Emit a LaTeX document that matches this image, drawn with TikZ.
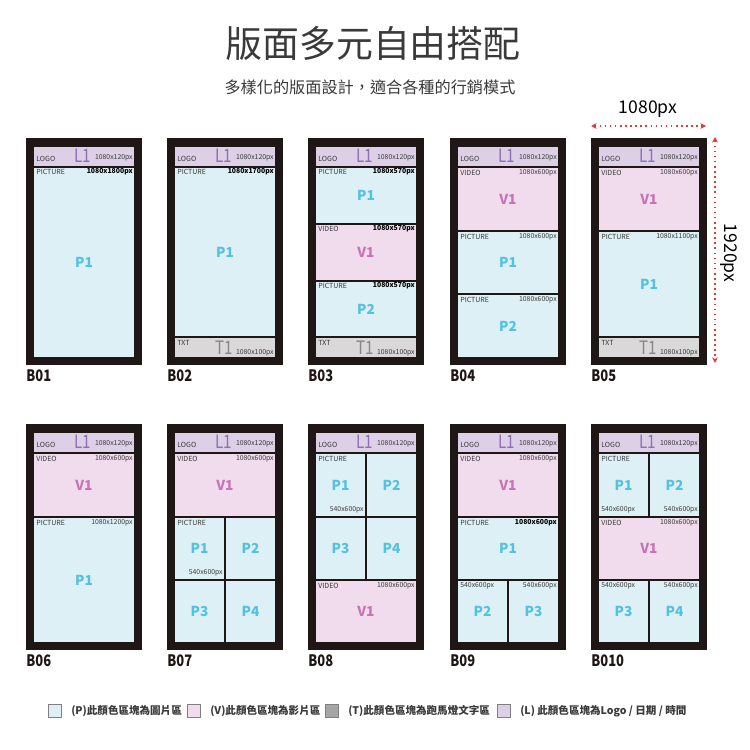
\documentclass[tikz,border=0pt]{standalone}
\usepackage{fontspec}
\setmainfont{Noto Sans CJK TC}
\newfontfamily\narrowfont[FakeStretch=0.82]{Noto Sans CJK TC}
\usetikzlibrary{arrows.meta, positioning}
\definecolor{framedk}{HTML}{1F1715}
\definecolor{logobg}{HTML}{DCCFE6}
\definecolor{logotx}{HTML}{8E6FB5}
\definecolor{picbg}{HTML}{DDF0F6}
\definecolor{pictx}{HTML}{55C1E0}
\definecolor{vidbg}{HTML}{F0DCEC}
\definecolor{vidtx}{HTML}{C873B5}
\definecolor{txtbg}{HTML}{D9D9D9}
\definecolor{txttx}{HTML}{868686}
\definecolor{legdk}{HTML}{A6A6A6}
\definecolor{inkgray}{HTML}{3A3A3A}
\definecolor{dimred}{HTML}{E53935}

% logo bar, one per panel (panel coordinates)
\newcommand{\logobar}[1]{%
  \filldraw[lblk] (7,8) rectangle (109,29);
  \node[tag, anchor=west] (#1logo) at (10,21) {LOGO};
  \node[lbig] (#1l1) at (57,18) {L1};
  \node[dim, anchor=east] (#1lsz) at (107,20) {1080x120px};
}
% running text bar at the bottom
\newcommand{\txtbar}[1]{%
  \filldraw[tblk] (7,199) rectangle (109,220);
  \node[tag, anchor=north west] (#1txt) at (10,202) {TXT};
  \node[tbig] (#1t1) at (57,210) {T1};
  \node[dim, anchor=south east] (#1tsz) at (107,218) {1080x100px};
}
% one block: name, kind (p/v), x1, y1, x2, y2, label
\newcommand{\blk}[7]{%
  \filldraw[#2blk] (#3,#4) rectangle (#5,#6);
  \node[#2big] (#1) at ({(#3+#5)/2},{(#4+#6)/2}) {#7};
}
% type and size tags along the top of a full-width block
\newcommand{\tags}[5]{%
  \node[tag, anchor=west] (#1a) at (10,#2) {#3};
  \node[#5, anchor=east] (#1b) at (107,#2) {#4};
}

\begin{document}
\begin{tikzpicture}[x=0.02cm, y=-0.02cm,
  >={Stealth[length=3.2pt, width=3.2pt]},
  panel/.style={fill=framedk},
  lblk/.style={fill=logobg, draw=framedk, line width=0.9pt},
  pblk/.style={fill=picbg, draw=framedk, line width=0.9pt},
  vblk/.style={fill=vidbg, draw=framedk, line width=0.9pt},
  tblk/.style={fill=txtbg, draw=framedk, line width=0.9pt},
  lbig/.style={font=\narrowfont\fontsize{10.5}{11}\selectfont, text=logotx, inner sep=0pt},
  tbig/.style={font=\narrowfont\fontsize{10.5}{11}\selectfont, text=txttx, inner sep=0pt},
  pbig/.style={font=\fontsize{7.8}{8}\selectfont\bfseries, text=pictx, inner sep=0pt},
  vbig/.style={font=\fontsize{7.8}{8}\selectfont\bfseries, text=vidtx, inner sep=0pt},
  tag/.style={font=\fontsize{4}{4.5}\selectfont, text=inkgray, inner sep=0pt},
  dim/.style={font=\fontsize{3.9}{4.5}\selectfont, text=inkgray, inner sep=0pt},
  dimb/.style={font=\fontsize{3.9}{4.5}\selectfont\bfseries, text=black, inner sep=0pt},
  plabel/.style={font=\narrowfont\fontsize{9}{10}\selectfont\bfseries, text=framedk,
    inner sep=0pt, anchor=north west},
  dimline/.style={<->, dimred, dotted, line width=0.9pt},
  legbox/.style={draw=gray, line width=0.5pt, minimum size=7.6pt, inner sep=0pt},
  legtxt/.style={font=\fontsize{6}{7}\selectfont\bfseries, text=inkgray, inner sep=0pt}]

\useasboundingbox (0,0) rectangle (750,750);
\fill[white] (0,0) rectangle (750,750);

% Title
\node[font=\fontsize{21}{24}\selectfont, text=inkgray] (title) at (373,44) {版面多元自由搭配};
\node[font=\fontsize{9.2}{11}\selectfont, text=inkgray] (subtitle) at (370,87)
  {多樣化的版面設計，適合各種的行銷模式};

% === Row 1 ===

% B01
\begin{scope}[shift={(26,138)}]
\fill[panel] (0,0) rectangle (116,227);
\logobar{b01}
\blk{b01p1}{p}{7}{29}{109}{220}{P1}
\tags{b01p}{34}{PICTURE}{1080x1800px}{dimb}
\node[plabel] (b01) at (0,231) {B01};
\end{scope}

% B02
\begin{scope}[shift={(167,138)}]
\fill[panel] (0,0) rectangle (116,227);
\logobar{b02}
\blk{b02p1}{p}{7}{29}{109}{199}{P1}
\tags{b02p}{34}{PICTURE}{1080x1700px}{dimb}
\txtbar{b02}
\node[plabel] (b02) at (0,231) {B02};
\end{scope}

% B03
\begin{scope}[shift={(308,138)}]
\fill[panel] (0,0) rectangle (116,227);
\logobar{b03}
\blk{b03p1}{p}{7}{29}{109}{86}{P1}
\tags{b03p}{34}{PICTURE}{1080x570px}{dimb}
\blk{b03v1}{v}{7}{86}{109}{143}{V1}
\tags{b03v}{91}{VIDEO}{1080x570px}{dimb}
\blk{b03p2}{p}{7}{143}{109}{199}{P2}
\tags{b03q}{148}{PICTURE}{1080x570px}{dimb}
\txtbar{b03}
\node[plabel] (b03) at (0,231) {B03};
\end{scope}

% B04
\begin{scope}[shift={(450,138)}]
\fill[panel] (0,0) rectangle (116,227);
\logobar{b04}
\blk{b04v1}{v}{7}{29}{109}{93}{V1}
\tags{b04v}{35}{VIDEO}{1080x600px}{dim}
\blk{b04p1}{p}{7}{93}{109}{156}{P1}
\tags{b04p}{99}{PICTURE}{1080x600px}{dim}
\blk{b04p2}{p}{7}{156}{109}{220}{P2}
\tags{b04q}{162}{PICTURE}{1080x600px}{dim}
\node[plabel] (b04) at (0,231) {B04};
\end{scope}

% B05
\begin{scope}[shift={(591,138)}]
\fill[panel] (0,0) rectangle (116,227);
\logobar{b05}
\blk{b05v1}{v}{7}{29}{109}{93}{V1}
\tags{b05v}{35}{VIDEO}{1080x600px}{dim}
\blk{b05p1}{p}{7}{93}{109}{199}{P1}
\tags{b05p}{99}{PICTURE}{1080x1100px}{dim}
\txtbar{b05}
\node[plabel] (b05) at (0,231) {B05};
\end{scope}

% Screen size
\coordinate (wl) at (591,126);
\coordinate (wr) at (706,126);
\coordinate (ht) at (715,137);
\coordinate (hb) at (715,363);
\draw[dimline] (wl) -- (wr);
\draw[dimline] (ht) -- (hb);
\node[font=\fontsize{10}{11}\selectfont, text=black, inner sep=0pt] (wlab) at (648,109) {1080px};
\node[font=\fontsize{10}{11}\selectfont, text=black, inner sep=0pt, rotate=-90] (hlab) at (729,253) {1920px};

% === Row 2 ===

% B06
\begin{scope}[shift={(26,424)}]
\fill[panel] (0,0) rectangle (116,226);
\logobar{b06}
\blk{b06v1}{v}{7}{29}{109}{93}{V1}
\tags{b06v}{35}{VIDEO}{1080x600px}{dim}
\blk{b06p1}{p}{7}{93}{109}{219}{P1}
\tags{b06p}{99}{PICTURE}{1080x1200px}{dim}
\node[plabel] (b06) at (0,230) {B06};
\end{scope}

% B07
\begin{scope}[shift={(167,424)}]
\fill[panel] (0,0) rectangle (116,226);
\logobar{b07}
\blk{b07v1}{v}{7}{29}{109}{93}{V1}
\tags{b07v}{35}{VIDEO}{1080x600px}{dim}
\blk{b07p1}{p}{7}{93}{58}{156}{P1}
\blk{b07p2}{p}{58}{93}{109}{156}{P2}
\blk{b07p3}{p}{7}{156}{58}{219}{P3}
\blk{b07p4}{p}{58}{156}{109}{219}{P4}
\node[tag, anchor=west] (b07pa) at (10,99) {PICTURE};
\node[dim, anchor=east] (b07pb) at (56,149) {540x600px};
\node[plabel] (b07) at (0,230) {B07};
\end{scope}

% B08
\begin{scope}[shift={(308,424)}]
\fill[panel] (0,0) rectangle (116,226);
\logobar{b08}
\blk{b08p1}{p}{7}{29}{58}{93}{P1}
\blk{b08p2}{p}{58}{29}{109}{93}{P2}
\blk{b08p3}{p}{7}{93}{58}{156}{P3}
\blk{b08p4}{p}{58}{93}{109}{156}{P4}
\node[tag, anchor=west] (b08pa) at (10,35) {PICTURE};
\node[dim, anchor=east] (b08pb) at (56,86) {540x600px};
\blk{b08v1}{v}{7}{156}{109}{219}{V1}
\tags{b08v}{162}{VIDEO}{1080x600px}{dim}
\node[plabel] (b08) at (0,230) {B08};
\end{scope}

% B09
\begin{scope}[shift={(450,424)}]
\fill[panel] (0,0) rectangle (116,226);
\logobar{b09}
\blk{b09v1}{v}{7}{29}{109}{93}{V1}
\tags{b09v}{35}{VIDEO}{1080x600px}{dim}
\blk{b09p1}{p}{7}{93}{109}{156}{P1}
\tags{b09p}{99}{PICTURE}{1080x600px}{dimb}
\blk{b09p2}{p}{7}{156}{58}{219}{P2}
\blk{b09p3}{p}{58}{156}{109}{219}{P3}
\node[dim, anchor=west] (b09qa) at (10,162) {540x600px};
\node[dim, anchor=east] (b09qb) at (107,162) {540x600px};
\node[plabel] (b09) at (0,230) {B09};
\end{scope}

% B010
\begin{scope}[shift={(591,424)}]
\fill[panel] (0,0) rectangle (116,226);
\logobar{b10}
\blk{b10p1}{p}{7}{29}{58}{93}{P1}
\blk{b10p2}{p}{58}{29}{109}{93}{P2}
\node[tag, anchor=west] (b10pa) at (10,35) {PICTURE};
\node[dim, anchor=west] (b10pb) at (10,86) {540x600px};
\node[dim, anchor=east] (b10pc) at (107,86) {540x600px};
\blk{b10v1}{v}{7}{93}{109}{156}{V1}
\tags{b10v}{99}{VIDEO}{1080x600px}{dim}
\blk{b10p3}{p}{7}{156}{58}{219}{P3}
\blk{b10p4}{p}{58}{156}{109}{219}{P4}
\node[dim, anchor=west] (b10qa) at (10,162) {540x600px};
\node[dim, anchor=east] (b10qb) at (107,162) {540x600px};
\node[plabel] (b10) at (0,230) {B010};
\end{scope}

% === Legend ===
\node[legbox, fill=picbg] (legp) at (55,711) {};
\node[legtxt, right=5pt of legp] (legptx) {(P)此顏色區塊為圖片區};
\node[legbox, fill=vidbg] (legv) at (194,711) {};
\node[legtxt, right=5pt of legv] (legvtx) {(V)此顏色區塊為影片區};
\node[legbox, fill=legdk] (legt) at (332,711) {};
\node[legtxt, right=5pt of legt] (legttx) {(T)此顏色區塊為跑馬燈文字區};
\node[legbox, fill=logobg] (legl) at (504,711) {};
\node[legtxt, right=5pt of legl] (legltx) {(L) 此顏色區塊為Logo / 日期 / 時間};

\end{tikzpicture}
\end{document}
